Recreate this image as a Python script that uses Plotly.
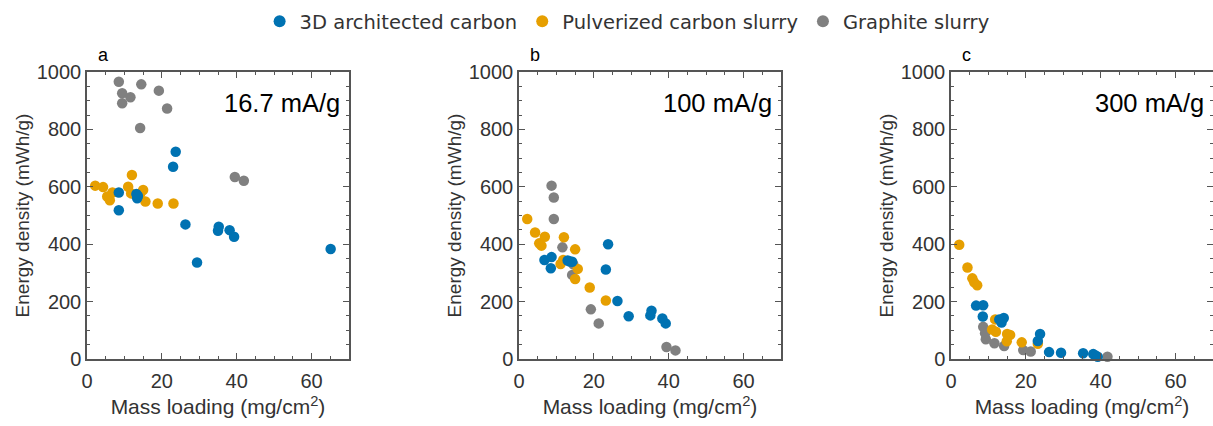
import plotly.graph_objects as go

# Series names and colours
series_names = ["3D architected carbon", "Pulverized carbon slurry", "Graphite slurry"]
series_colors = ["#0072B2", "#E69F00", "#808080"]
rates = ["16.7 mA/g", "100 mA/g", "300 mA/g"]
panel_letters = ["a", "b", "c"]

# Panel a: 16.7 mA/g  (mass loading mg/cm2, energy density mWh/g)
a_3d_x = [8.5, 8.5, 13.2, 13.4, 13.6, 23.7, 23.0, 26.3, 29.4, 35.2, 35.0, 38.1, 39.3, 65.1]
a_3d_y = [580, 518, 575, 560, 568, 722, 670, 469, 336, 461, 447, 449, 426, 383]
a_pc_x = [2.2, 4.3, 5.4, 6.1, 6.8, 11.0, 12.0, 11.8, 15.0, 15.6, 18.9, 23.1, 14.2]
a_pc_y = [604, 599, 566, 553, 580, 600, 641, 577, 589, 549, 542, 542, 575]
a_gr_x = [8.5, 9.4, 9.4, 11.6, 14.5, 19.2, 21.4, 14.2, 39.5, 41.9]
a_gr_y = [966, 926, 891, 912, 957, 935, 873, 805, 634, 621]

# Panel b: 100 mA/g
b_3d_x = [6.8, 8.7, 8.5, 13.0, 13.6, 14.2, 23.8, 23.2, 26.3, 29.3, 35.4, 35.1, 38.3, 39.2]
b_3d_y = [345, 355, 316, 343, 340, 339, 400, 312, 202, 149, 168, 152, 141, 124]
b_pc_x = [2.2, 4.3, 5.4, 6.0, 6.9, 12.0, 11.1, 11.8, 15.0, 15.7, 15.0, 18.9, 23.2]
b_pc_y = [488, 441, 403, 395, 426, 424, 331, 345, 382, 314, 279, 249, 204]
b_gr_x = [8.7, 9.3, 9.3, 11.6, 14.2, 14.5, 19.2, 21.3, 39.4, 41.8]
b_gr_y = [604, 563, 488, 389, 293, 330, 173, 124, 42, 30]

# Panel c: 300 mA/g
c_3d_x = [6.7, 8.6, 8.5, 12.9, 13.5, 14.1, 23.8, 23.2, 26.2, 29.4, 35.3, 38.0, 38.6, 39.2]
c_3d_y = [186, 187, 148, 138, 127, 143, 87, 63, 24, 22, 20, 17, 12, 8]
c_pc_x = [2.2, 4.4, 5.7, 6.2, 7.0, 11.8, 11.0, 12.0, 15.0, 15.8, 14.9, 18.9, 23.2]
c_pc_y = [398, 319, 281, 267, 257, 138, 103, 95, 87, 84, 62, 58, 53]
c_gr_x = [8.6, 9.1, 9.3, 11.6, 14.2, 19.3, 21.3, 41.8]
c_gr_y = [112, 90, 69, 55, 45, 31, 26, 8]

panels = [
    [(a_3d_x, a_3d_y), (a_pc_x, a_pc_y), (a_gr_x, a_gr_y)],
    [(b_3d_x, b_3d_y), (b_pc_x, b_pc_y), (b_gr_x, b_gr_y)],
    [(c_3d_x, c_3d_y), (c_pc_x, c_pc_y), (c_gr_x, c_gr_y)],
]

x_domains = [[87 / 1213, 349 / 1213], [519 / 1213, 781 / 1213], [951 / 1213, 1.0]]
y_domain = [1 - 359 / 426, 1 - 72 / 426]

fig = go.Figure()

# grey drawn first so the coloured series sit on top; legend order kept via legendrank
draw_order = [2, 1, 0]
for p, data in enumerate(panels):
    suffix = "" if p == 0 else str(p + 1)
    for s in draw_order:
        xs, ys = data[s]
        fig.add_trace(go.Scatter(
            x=xs, y=ys, mode="markers",
            name=series_names[s],
            legendgroup=series_names[s],
            legendrank=s + 1,
            showlegend=(p == 0),
            marker=dict(size=10.5, color=series_colors[s], line=dict(width=0)),
            xaxis="x" + suffix, yaxis="y" + suffix,
            cliponaxis=False,
        ))

sans = "Liberation Sans, Arial, sans-serif"
tick_font = dict(family=sans, size=20, color="#333333")
xtitle_font = dict(family=sans, size=21, color="#333333")
ytitle_font = dict(family=sans, size=19, color="#333333")

layout = dict(
    width=1213, height=426,
    margin=dict(l=0, r=0, t=0, b=0, autoexpand=False),
    paper_bgcolor="white", plot_bgcolor="white",
    showlegend=True,
    legend=dict(
        orientation="h", x=0.517, xanchor="center", y=0.995, yanchor="top",
        font=dict(family="DejaVu Sans, Verdana, sans-serif", size=19.5, color="#333333"),
        itemsizing="constant", traceorder="normal",
        itemwidth=30, tracegroupgap=0,
    ),
    annotations=[],
)

for p in range(3):
    suffix = "" if p == 0 else str(p + 1)
    common = dict(
        showline=True, mirror="ticks", linecolor="#555555", linewidth=1.5,
        ticks="inside", ticklen=6, tickwidth=1.3, tickcolor="#555555",
        showgrid=False, zeroline=False, tickfont=tick_font, automargin=False,
    )
    layout["xaxis" + suffix] = dict(
        common, domain=x_domains[p], range=[0, 70], dtick=20, tick0=0,
        anchor="y" + suffix, ticklabelstandoff=3,
        minor=dict(dtick=5, ticks="inside", ticklen=3, tickcolor="#555555", tickwidth=1),
        title=dict(text="Mass loading (mg/cm<sup>2</sup>)", font=xtitle_font, standoff=9),
    )
    layout["yaxis" + suffix] = dict(
        common, domain=y_domain, range=[0, 1000], dtick=200, tick0=0,
        anchor="x" + suffix,
        minor=dict(dtick=50, ticks="inside", ticklen=3, tickcolor="#555555", tickwidth=1),
        title=dict(text="Energy density (mWh/g)", font=ytitle_font, standoff=2),
    )
    layout["annotations"].append(dict(
        text=rates[p], xref="x" + suffix + " domain", yref="y" + suffix + " domain",
        x=0.975, y=0.892, xanchor="right", yanchor="middle", showarrow=False,
        font=dict(family=sans, size=25.5, color="#000000"),
    ))
    layout["annotations"].append(dict(
        text=panel_letters[p], xref="x" + suffix + " domain", yref="y" + suffix + " domain",
        x=0.035, y=1.06, xanchor="left", yanchor="middle", showarrow=False,
        font=dict(family=sans, size=18, color="#000000"),
    ))

fig.update_layout(**layout)
fig.write_html("out.html")
